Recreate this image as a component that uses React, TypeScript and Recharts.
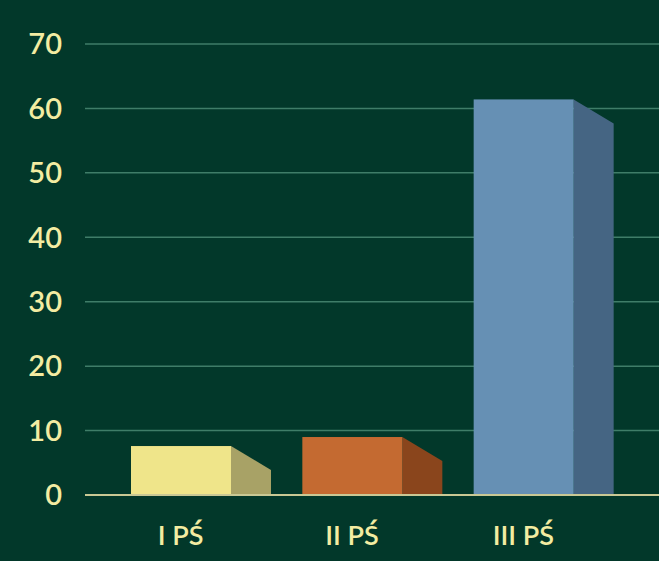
import React from 'react';
import { BarChart, Bar, XAxis, YAxis, CartesianGrid, Cell } from 'recharts';

const categories = ['I PŚ', 'II PŚ', 'III PŚ'];
const values = [7.6, 9.0, 61.4];
const yTicks = [0, 10, 20, 30, 40, 50, 60, 70];
const frontColors = ['#efe58a', '#c46a31', '#6690b4'];
const sideColors = ['#a8a266', '#8a451c', '#456583'];

const data = categories.map((name, i) => ({ name, value: values[i] }));

const BG = '#02382a';
const TEXT = '#f3eca2';

const Bar3D = (props: any) => {
  const { x, y, width, height, index } = props;
  const depth = 40;
  const drop = 24;
  const bottom = y + height;
  const sideTop = Math.min(y + drop, bottom);
  return (
    <g>
      <polygon
        points={`${x + width},${y} ${x + width + depth},${sideTop} ${x + width + depth},${bottom} ${x + width},${bottom}`}
        fill={sideColors[index]}
      />
      <rect x={x} y={y} width={width} height={height} fill={frontColors[index]} />
    </g>
  );
};

export default function App() {
  return (
    <div style={{ position: 'absolute', left: 0, top: 0, width: 659, height: 561, background: BG }}>
      <BarChart
        width={659}
        height={561}
        data={data}
        margin={{ top: 44, right: 0, bottom: 16, left: 0 }}
      >
        <CartesianGrid vertical={false} stroke="#3f7d68" strokeWidth={1.5} />
        <XAxis
          dataKey="name"
          padding={{ left: 10, right: 50 }}
          axisLine={{ stroke: '#c9c894', strokeWidth: 2 }}
          tickLine={false}
          tickSize={0}
          tickMargin={31}
          height={50}
          tick={{ fill: TEXT, fontSize: 27, fontFamily: 'Lato', fontWeight: 600 }}
        />
        <YAxis
          domain={[0, 70]}
          ticks={yTicks}
          width={85}
          axisLine={false}
          tickLine={false}
          tickSize={0}
          tickMargin={23}
          tick={{ fill: TEXT, fontSize: 29, fontFamily: 'Lato', fontWeight: 600 }}
        />
        <Bar dataKey="value" barSize={100} isAnimationActive={false} shape={<Bar3D />}>
          {data.map((d, i) => (
            <Cell key={d.name} fill={frontColors[i]} />
          ))}
        </Bar>
      </BarChart>
    </div>
  );
}
